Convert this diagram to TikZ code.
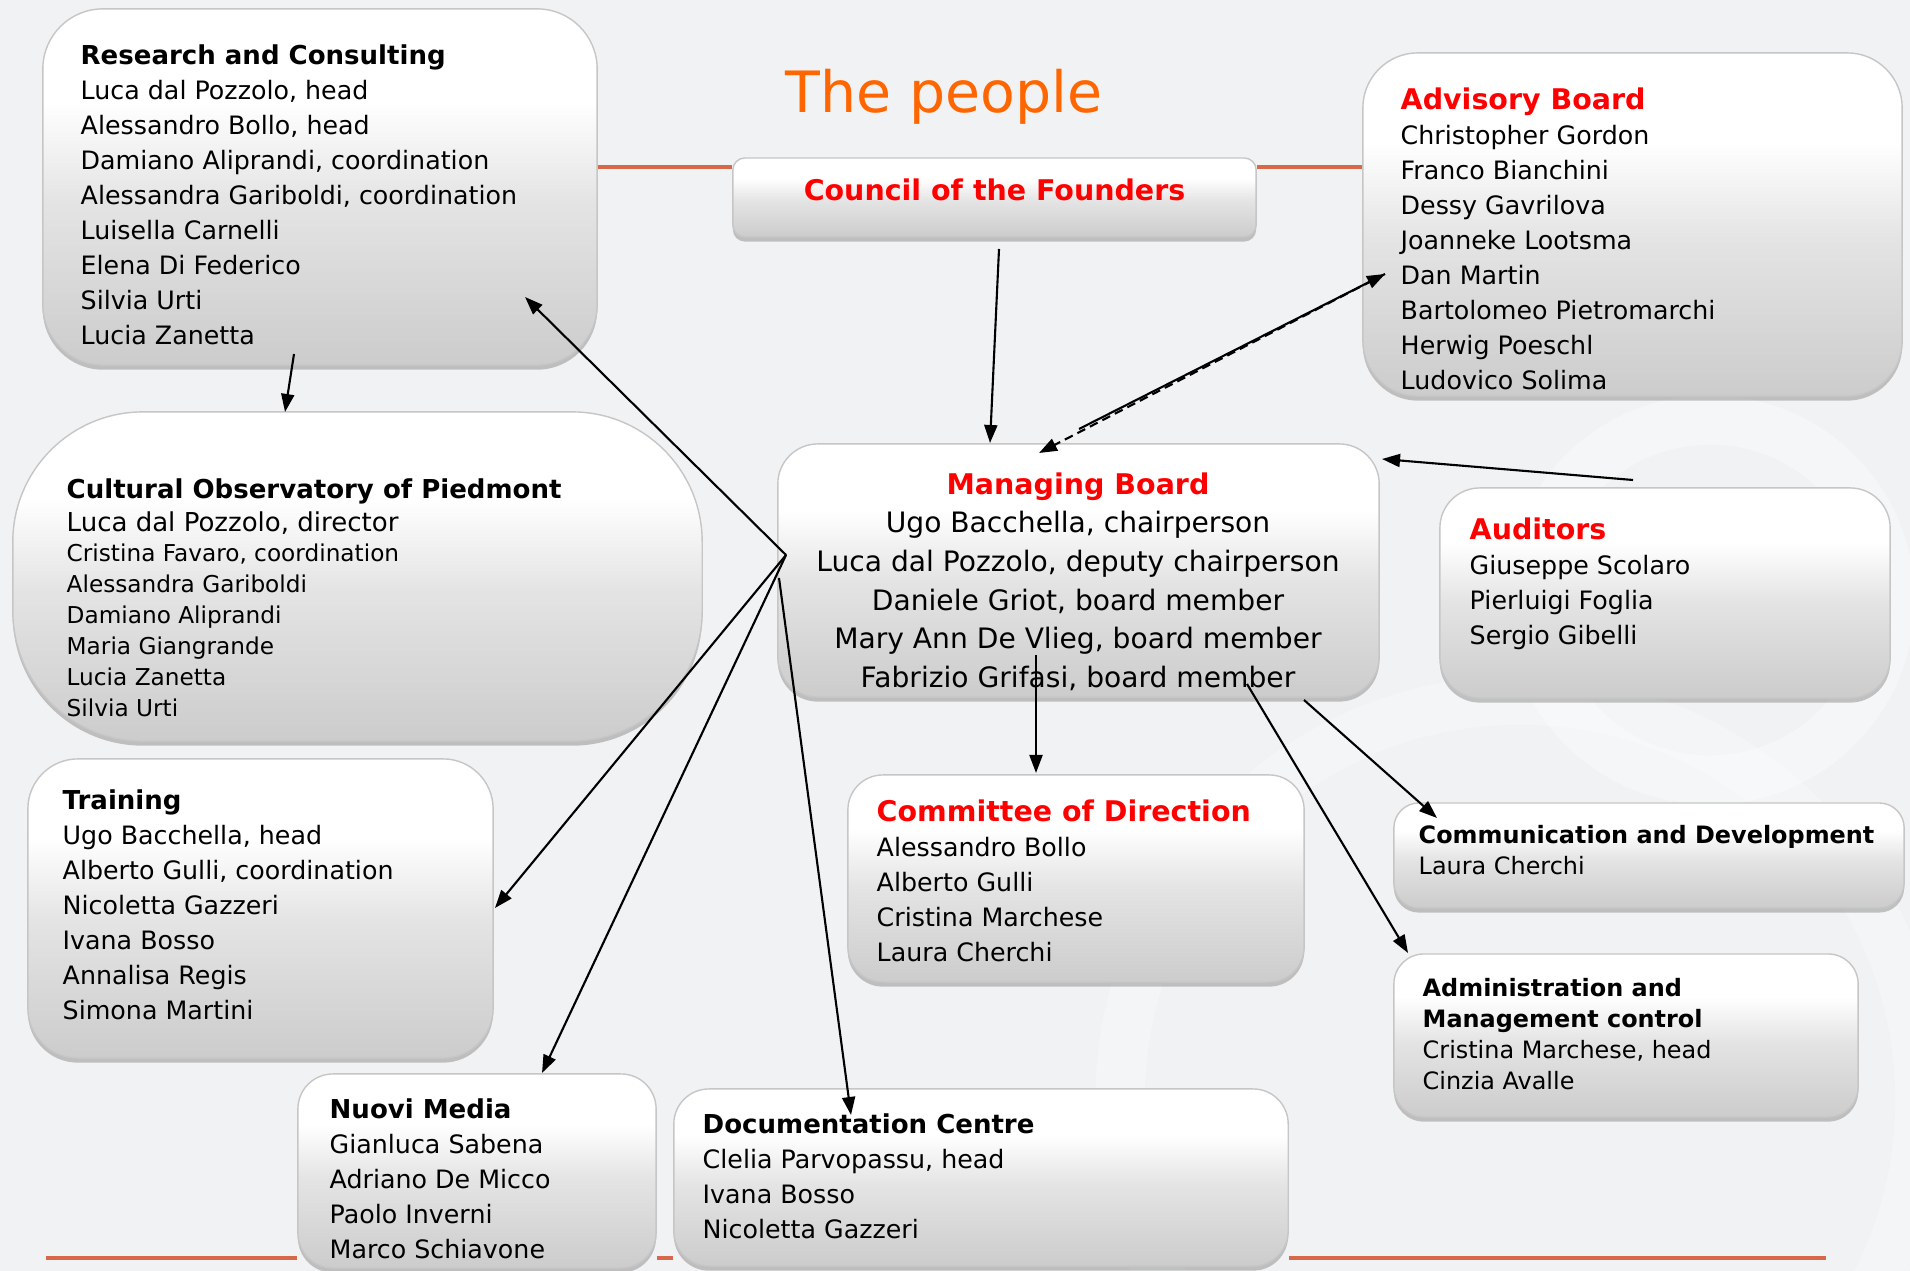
\documentclass[tikz,border=0pt]{standalone}
\usepackage{fontspec}
\setmainfont{DejaVu Sans}
\usetikzlibrary{arrows.meta,shadows}

\definecolor{bgpaper}{RGB}{241,242,244}
\definecolor{boxlow}{RGB}{204,204,204}
\definecolor{boxmid}{RGB}{228,228,228}
\definecolor{rulered}{RGB}{216,104,74}
\definecolor{titleorange}{RGB}{255,102,0}
\definecolor{headred}{RGB}{255,0,0}
\pgfdeclareverticalshading{boxfade}{100bp}{color(0bp)=(boxlow); color(25bp)=(boxlow); color(48bp)=(boxmid); color(62bp)=(white); color(100bp)=(white)}

\newcommand{\redhead}[1]{{\fontsize{8.1}{9.96}\selectfont\bfseries\color{headred}#1}}
\newcommand{\blackhead}[1]{{\fontsize{7.4}{9.96}\selectfont\bfseries #1}}

\tikzset{
  box/.style={draw=gray!45, line width=0.4pt, shade, shading=boxfade, inner sep=0pt,
    drop shadow={shadow xshift=0pt, shadow yshift=-1.3pt, opacity=.45}},
  people/.style={anchor=north west, align=left, inner sep=0pt, font=\fontsize{7.2}{9.96}\selectfont},
  link/.style={line width=0.6pt, -{Triangle[length=1.8mm,width=1.3mm]}},
  rule/.style={rulered, line width=0.9pt}
}

\begin{document}
\begin{tikzpicture}[x=0.01cm, y=-0.01cm]
		%%%%% BACKGROUND %%%%%
		\fill[bgpaper] (0,0) rectangle (1910,1271);
		\useasboundingbox (0,0) rectangle (1910,1271);
		\draw[white, opacity=0.35, line width=14pt] (1710,600) circle (180);
		\draw[white, opacity=0.25, line width=14pt] (1520,1100) circle (400);
		
		\node[anchor=north, inner sep=0pt, text=titleorange, font=\fontsize{16.2}{19}\selectfont] (title) at (944,69) {The people};
		
		%%%%% BOXES %%%%%
		\node[box, rounded corners=6mm, minimum width=5.54cm, minimum height=3.56cm] (rc) at (320,187) {};
		\node[box, rounded corners=1.2mm, minimum width=5.23cm, minimum height=0.79cm] (cf) at (994.5,197.5) {};
		\node[box, rounded corners=5.5mm, minimum width=5.39cm, minimum height=3.43cm] (ab) at (1632.5,224.5) {};
		\node[box, rounded corners=4mm, minimum width=6.01cm, minimum height=2.53cm] (mb) at (1078.5,570.5) {};
		\node[box, rounded corners=4mm, minimum width=4.50cm, minimum height=2.10cm] (au) at (1665,593) {};
		\node[box, rounded corners=13mm, minimum width=6.89cm, minimum height=3.29cm] (cop) at (357.5,576.5) {};
		\node[box, rounded corners=5mm, minimum width=4.65cm, minimum height=2.99cm] (tr) at (260.5,908.5) {};
		\node[box, rounded corners=3.5mm, minimum width=3.58cm, minimum height=1.94cm] (nm) at (477,1171) {};
		\node[box, rounded corners=3.5mm, minimum width=6.14cm, minimum height=1.77cm] (dc) at (981,1177.5) {};
		\node[box, rounded corners=3.5mm, minimum width=4.56cm, minimum height=2.07cm] (cd) at (1076,878.5) {};
		\node[box, rounded corners=2.5mm, minimum width=5.10cm, minimum height=1.05cm] (cm) at (1649,855.5) {};
		\node[box, rounded corners=3mm, minimum width=4.64cm, minimum height=1.63cm] (am) at (1626,1035.5) {};
		
		%%%%% RULES %%%%%
		\coordinate (topline) at (0,167);
		\draw[rule] (topline -| rc.east) -- (topline -| cf.west);
		\draw[rule] (topline -| cf.east) -- (topline -| ab.west);
		\coordinate (botL) at (46,1258);
		\coordinate (botR) at (1826,1258);
		\draw[rule] (botL) -- (nm.west |- botL);
		\draw[rule] (nm.east |- botL) -- (dc.west |- botL);
		\draw[rule] (dc.east |- botL) -- (botR);
		
		%%%%% TEXTS %%%%%
		\node[people] (rc-t) at (80,44) {\blackhead{Research and Consulting}\\Luca dal Pozzolo, head\\Alessandro Bollo, head\\Damiano Aliprandi, coordination\\Alessandra Gariboldi, coordination\\Luisella Carnelli\\Elena Di Federico\\Silvia Urti\\Lucia Zanetta};
		\node[anchor=north, inner sep=0pt, font=\fontsize{8.1}{9.96}\selectfont\bfseries, text=headred] (cf-t) at (994.5,178) {Council of the Founders};
		\node[people] (ab-t) at (1400,87) {\redhead{Advisory Board}\\Christopher Gordon\\Franco Bianchini\\Dessy Gavrilova\\Joanneke Lootsma\\Dan Martin\\Bartolomeo Pietromarchi\\Herwig Poeschl\\Ludovico Solima};
		\node[anchor=north, align=center, inner sep=0pt, font=\fontsize{8}{10.98}\selectfont] (mb-t) at (1078,472) {{\fontsize{8.1}{10.98}\selectfont\bfseries\color{headred}Managing Board}\\Ugo Bacchella, chairperson\\Luca dal Pozzolo, deputy chairperson\\Daniele Griot, board member\\Mary Ann De Vlieg, board member\\Fabrizio Grifasi, board member};
		\node[people] (au-t) at (1469,517) {\redhead{Auditors}\\Giuseppe Scolaro\\Pierluigi Foglia\\Sergio Gibelli};
		\node[people, font=\fontsize{7.4}{9.39}\selectfont] (cop-t) at (66,478) {{\bfseries Cultural Observatory of Piedmont}\\Luca dal Pozzolo, director};
		\node[people, font=\fontsize{6.6}{8.82}\selectfont] (cop-s) at (66,543) {Cristina Favaro, coordination\\Alessandra Gariboldi\\Damiano Aliprandi\\Maria Giangrande\\Lucia Zanetta\\Silvia Urti};
		\node[people] (tr-t) at (62,789) {\blackhead{Training}\\Ugo Bacchella, head\\Alberto Gulli, coordination\\Nicoletta Gazzeri\\Ivana Bosso\\Annalisa Regis\\Simona Martini};
		\node[people] (nm-t) at (329,1098) {\blackhead{Nuovi Media}\\Gianluca Sabena\\Adriano De Micco\\Paolo Inverni\\Marco Schiavone};
		\node[people] (dc-t) at (702,1113) {\blackhead{Documentation Centre}\\Clelia Parvopassu, head\\Ivana Bosso\\Nicoletta Gazzeri};
		\node[people] (cd-t) at (876,799) {\redhead{Committee of Direction}\\Alessandro Bollo\\Alberto Gulli\\Cristina Marchese\\Laura Cherchi};
		\node[people, font=\fontsize{6.8}{8.82}\selectfont] (cm-t) at (1418,825) {{\bfseries Communication and Development}\\Laura Cherchi};
		\node[people, font=\fontsize{6.8}{8.82}\selectfont] (am-t) at (1422,978) {{\bfseries Administration and}\\{\bfseries Management control}\\Cristina Marchese, head\\Cinzia Avalle};
		
		%%%%% ARROWS %%%%%
		\coordinate (rc-out) at (294,354);
		\coordinate (cop-in) at (285,412);
		\draw[link] (rc-out) -- (cop-in);
		
		\coordinate (cf-out) at (999,249);
		\coordinate (mb-in) at (990,443);
		\draw[link] (cf-out) -- (mb-in);
		
		\coordinate (ab-in) at (1385,274);
		\coordinate (mb-mid) at (1079,429);
		\coordinate (mb-top) at (1039,453);
		\draw[link] (mb-mid) -- (ab-in);
		\draw[link, dash pattern=on 2.5pt off 1.5pt] (ab-in) -- (mb-top);
		
		\coordinate (au-out) at (1633,480);
		\coordinate (mb-right) at (1382,459);
		\draw[link] (au-out) -- (mb-right);
		
		\coordinate (hub) at (786,555);
		\coordinate (hub2) at (779,578);
		\coordinate (rc-in) at (525,297);
		\coordinate (tr-in) at (495,908);
		\coordinate (nm-in) at (542,1073);
		\coordinate (dc-in) at (851,1115);
		\draw[link] (hub) -- (rc-in);
		\draw[link] (hub) -- (tr-in);
		\draw[link] (hub) -- (nm-in);
		\draw[link] (hub2) -- (dc-in);
		
		\coordinate (mb-cd) at (1036,655);
		\coordinate (cd-in) at (1036,773);
		\draw[link] (mb-cd) -- (cd-in);
		
		\coordinate (mb-am) at (1247,684);
		\coordinate (am-in) at (1408,953);
		\draw[link] (mb-am) -- (am-in);
		
		\coordinate (mb-cm) at (1304,700);
		\coordinate (cm-in) at (1437,818);
		\draw[link] (mb-cm) -- (cm-in);
		
		%%%%% END %%%%%
\end{tikzpicture}
\end{document}
